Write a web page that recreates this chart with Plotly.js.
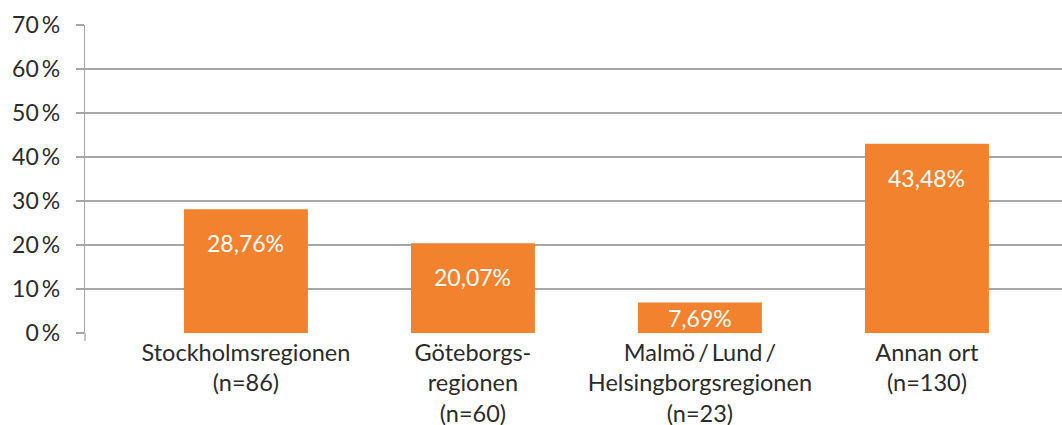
<!DOCTYPE html>
<html>
<head>
<meta charset="utf-8">
<script src="https://cdn.plot.ly/plotly-3.0.1.min.js"></script>
<style>html,body{margin:0;padding:0;background:#fff;}#chart{width:1062px;height:425px;}</style>
</head>
<body>
<div id="chart"></div>
<script>
var categories = ["Stockholmsregionen", "Göteborgsregionen", "Malmö/Lund/Helsingborgsregionen", "Annan ort"];
var tickLabels = [
  "Stockholmsregionen<br>(n=86)",
  "Göteborgs-<br>regionen<br>(n=60)",
  "Malmö\u2009/\u2009Lund\u2009/<br>Helsingborgsregionen<br>(n=23)",
  "Annan ort<br>(n=130)"
];
var barHeights = [28.1, 20.4, 6.95, 43.0];
var valueLabels = ["28,76%", "20,07%", "7,69%", "43,48%"];
var yTickVals = [0, 10, 20, 30, 40, 50, 60, 70];
var yTickText = ["0\u2009%", "10\u2009%", "20\u2009%", "30\u2009%", "40\u2009%", "50\u2009%", "60\u2009%", "70\u2009%"];

var FONT = "Lato, 'Open Sans', sans-serif";
var plotH = 425 - 25 - 92;
var pxPerUnit = plotH / 70;

var annotations = categories.map(function (c, i) {
  var half = barHeights[i] * pxPerUnit / 2;
  return {
    x: c, y: barHeights[i], xref: "x", yref: "y",
    text: valueLabels[i], showarrow: false,
    yanchor: "middle", yshift: -Math.min(34, half),
    font: {family: FONT, size: 23, color: "#ffffff"}
  };
});

var trace = {
  type: "bar",
  x: categories,
  y: barHeights,
  width: 0.546,
  marker: {color: "#F2822E"},
  hoverinfo: "skip"
};

var layout = {
  width: 1062, height: 425,
  margin: {l: 85, r: 0, t: 25, b: 92},
  paper_bgcolor: "#ffffff", plot_bgcolor: "#ffffff",
  showlegend: false,
  font: {family: FONT, size: 23, color: "#2b2b2b"},
  xaxis: {
    type: "category",
    range: [-0.709, 3.595],
    tickmode: "array", tickvals: categories, ticktext: tickLabels,
    ticks: "", showgrid: false, zeroline: false, showline: false,
    tickfont: {family: FONT, size: 23.5, color: "#2b2b2b"},
    ticklabelstandoff: 3
  },
  yaxis: {
    range: [0, 70],
    tickmode: "array", tickvals: yTickVals, ticktext: yTickText,
    ticks: "outside", ticklen: 8, tickcolor: "#a6a6a6", tickwidth: 1.3,
    showgrid: true, gridcolor: "#a6a6a6", gridwidth: 1.3,
    zeroline: false,
    showline: true, linecolor: "#a6a6a6", linewidth: 1.3,
    tickfont: {family: FONT, size: 23, color: "#2b2b2b"},
    ticklabelstandoff: 11
  },
  shapes: [{
    type: "line", xref: "paper", yref: "paper",
    x0: 0, x1: 0, y0: 0, y1: -8 / plotH,
    line: {color: "#a6a6a6", width: 1.3}
  }],
  annotations: annotations
};

Plotly.newPlot("chart", [trace], layout, {displayModeBar: false, staticPlot: true});
</script>
</body>
</html>
